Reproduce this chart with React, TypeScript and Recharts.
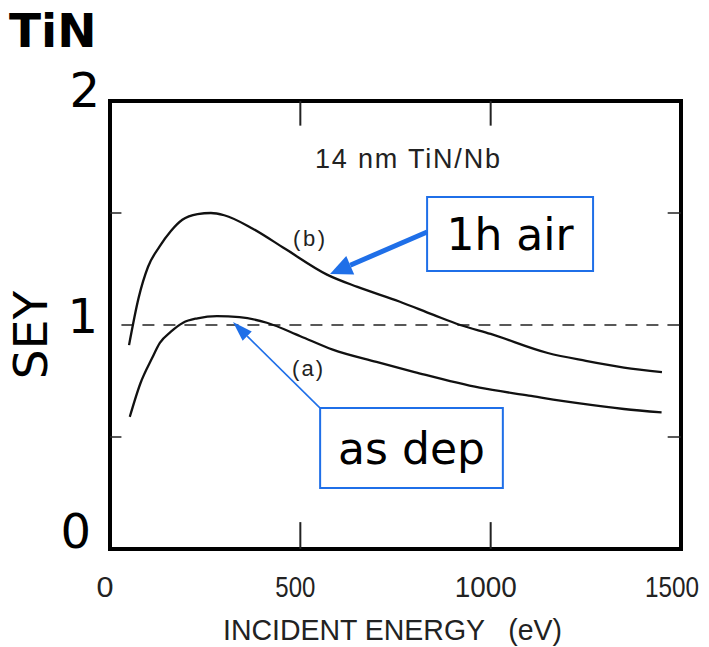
import React from 'react';
import {
  LineChart, Line, XAxis, YAxis, ReferenceLine, ReferenceArea,
} from 'recharts';

// curve (b): after 1h in air
const energyB = [50, 75, 100, 130, 160, 190, 230, 265, 300, 375, 460, 570, 650, 760, 850, 920, 1000, 1150, 1250, 1350, 1450];
const seyB = [0.91, 1.12, 1.26, 1.35, 1.42, 1.47, 1.495, 1.5, 1.49, 1.43, 1.34, 1.225, 1.17, 1.105, 1.045, 1.0, 0.96, 0.875, 0.84, 0.81, 0.79];

// curve (a): as deposited
const energyA = [52, 80, 110, 131, 160, 192, 230, 281, 340, 412, 500, 585, 700, 800, 971, 1100, 1234, 1350, 1449];
const seyA = [0.59, 0.74, 0.85, 0.92, 0.97, 1.01, 1.03, 1.04, 1.035, 1.01, 0.95, 0.89, 0.835, 0.79, 0.72, 0.685, 0.65, 0.625, 0.61];

const xTicks = [0, 500, 1000, 1500];
const yTicks = [0, 1, 2];

const W = 709;
const H = 647;
const MARGIN = { top: 101, right: 28, bottom: 58, left: 50 };
const BLUE = '#1f6fe8';
const SCAN = '#222';
const ARIAL = '"Liberation Sans", Arial, sans-serif';
const VERDANA = '"DejaVu Sans", Verdana, sans-serif';

const dataB = energyB.map((e, i) => ({ energy: e, sey: seyB[i] }));
const dataA = energyA.map((e, i) => ({ energy: e, sey: seyA[i] }));

// scanned tick labels are a condensed face: squeeze them to the widths seen
const xLabelWidth: Record<number, number> = { 0: 17, 500: 40, 1000: 62, 1500: 54 };

const XTick = (props: any) => {
  const { x, payload } = props;
  const w = xLabelWidth[payload.value] || 40;
  const left = Math.min(x - 5 - w / 2, W - 10 - w);
  return (
    <text x={left} y={597} fontFamily={ARIAL} fontSize={29} fill={SCAN}
      textLength={w} lengthAdjust="spacingAndGlyphs">
      {payload.value}
    </text>
  );
};

const yPos: Record<number, [number, number]> = { 0: [91, -1], 1: [98, 8], 2: [100, 6] };

const YTick = (props: any) => {
  const { y, payload } = props;
  const [tx, dy] = yPos[payload.value] || [98, 8];
  return (
    <text x={tx} y={y + dy} textAnchor="end" fontFamily={VERDANA} fontSize={48} fill="#000">
      {payload.value}
    </text>
  );
};

const arrow = (width: number, head: number, headW: number) => (props: any) => {
  const { x1, y1, x2, y2 } = props;
  const dx = x2 - x1;
  const dy = y2 - y1;
  const len = Math.sqrt(dx * dx + dy * dy) || 1;
  const ux = dx / len;
  const uy = dy / len;
  const bx = x2 - ux * head;
  const by = y2 - uy * head;
  const px = -uy * headW / 2;
  const py = ux * headW / 2;
  return (
    <g>
      <line x1={x1} y1={y1} x2={bx} y2={by} stroke={BLUE} strokeWidth={width} />
      <polygon points={`${x2},${y2} ${bx + px},${by + py} ${bx - px},${by - py}`} fill={BLUE} />
    </g>
  );
};

const boxLabel = (value: string) => ({
  value,
  position: 'center' as const,
  fill: '#000',
  fontSize: 44,
  fontFamily: VERDANA,
});

export default function App() {
  return (
    <div style={{ position: 'absolute', left: 0, top: 0, width: W, height: H, background: '#fff' }}>
      <LineChart width={W} height={H} margin={MARGIN}>
        <XAxis
          dataKey="energy"
          type="number"
          domain={[0, 1500]}
          ticks={xTicks}
          height={40}
          axisLine={false}
          tickLine={false}
          tick={<XTick />}
        />
        <YAxis
          type="number"
          domain={[0, 2]}
          ticks={yTicks}
          width={60}
          axisLine={false}
          tickLine={false}
          tick={<YTick />}
        />

        {/* frame of the scanned plot */}
        <ReferenceArea x1={0} x2={1500} y1={0} y2={2} fill="none" stroke="#000" strokeWidth={4} />

        {/* inward tick marks */}
        <ReferenceLine segment={[{ x: 500, y: 0 }, { x: 500, y: 0.12 }]} stroke={SCAN} strokeWidth={2} />
        <ReferenceLine segment={[{ x: 1000, y: 0 }, { x: 1000, y: 0.12 }]} stroke={SCAN} strokeWidth={2} />
        <ReferenceLine segment={[{ x: 500, y: 2 }, { x: 500, y: 1.89 }]} stroke={SCAN} strokeWidth={2} />
        <ReferenceLine segment={[{ x: 1000, y: 2 }, { x: 1000, y: 1.89 }]} stroke={SCAN} strokeWidth={2} />
        <ReferenceLine segment={[{ x: 0, y: 0.5 }, { x: 30, y: 0.5 }]} stroke={SCAN} strokeWidth={1.5} />
        <ReferenceLine segment={[{ x: 0, y: 1.5 }, { x: 30, y: 1.5 }]} stroke={SCAN} strokeWidth={1.5} />
        <ReferenceLine segment={[{ x: 1500, y: 0.5 }, { x: 1465, y: 0.5 }]} stroke={SCAN} strokeWidth={1.5} />
        <ReferenceLine segment={[{ x: 1500, y: 1.5 }, { x: 1465, y: 1.5 }]} stroke={SCAN} strokeWidth={1.5} />

        <ReferenceLine segment={[{ x: 30, y: 1 }, { x: 1500, y: 1 }]} stroke={SCAN} strokeWidth={1.5} strokeDasharray="12 9" />

        <Line data={dataB} dataKey="sey" type="monotone" stroke="#111" strokeWidth={2.3} dot={false} isAnimationActive={false} />
        <Line data={dataA} dataKey="sey" type="monotone" stroke="#111" strokeWidth={2.3} dot={false} isAnimationActive={false} />

        <ReferenceArea x1={833} x2={1269} y1={1.241} y2={1.571} fill="#fff" fillOpacity={1}
          stroke={BLUE} strokeWidth={2} label={boxLabel('1h air')} />
        <ReferenceArea x1={552} x2={1032} y1={0.272} y2={0.629} fill="#fff" fillOpacity={1}
          stroke={BLUE} strokeWidth={2} label={boxLabel('as dep')} />

        <ReferenceLine segment={[{ x: 833, y: 1.415 }, { x: 578, y: 1.228 }]} shape={arrow(5, 22, 20)} />
        <ReferenceLine segment={[{ x: 552, y: 0.629 }, { x: 323, y: 1.013 }]} shape={arrow(1.6, 20, 13)} />
      </LineChart>

      <svg width={W} height={H} style={{ position: 'absolute', left: 0, top: 0, pointerEvents: 'none' }}>
        <text x={9} y={47} fontFamily={VERDANA} fontWeight="bold" fontSize={47} fill="#000">TiN</text>
        <text x={47} y={335} transform="rotate(-90 47 335)" textAnchor="middle" fontFamily={VERDANA} fontSize={47} fill="#000">SEY</text>
        <text x={315} y={168} fontFamily={ARIAL} fontSize={27} fill={SCAN} textLength={185} lengthAdjust="spacing">14 nm TiN/Nb</text>
        <text x={293} y={246} fontFamily={ARIAL} fontSize={22} fill={SCAN} textLength={32} lengthAdjust="spacing">(b)</text>
        <text x={292} y={376} fontFamily={ARIAL} fontSize={22} fill={SCAN} textLength={31} lengthAdjust="spacing">(a)</text>
        <text x={223} y={640} fontFamily={ARIAL} fontSize={30} fill={SCAN} style={{ whiteSpace: 'pre' }}
          textLength={339} lengthAdjust="spacingAndGlyphs">
          {'INCIDENT ENERGY   (eV)'}
        </text>
      </svg>
    </div>
  );
}
